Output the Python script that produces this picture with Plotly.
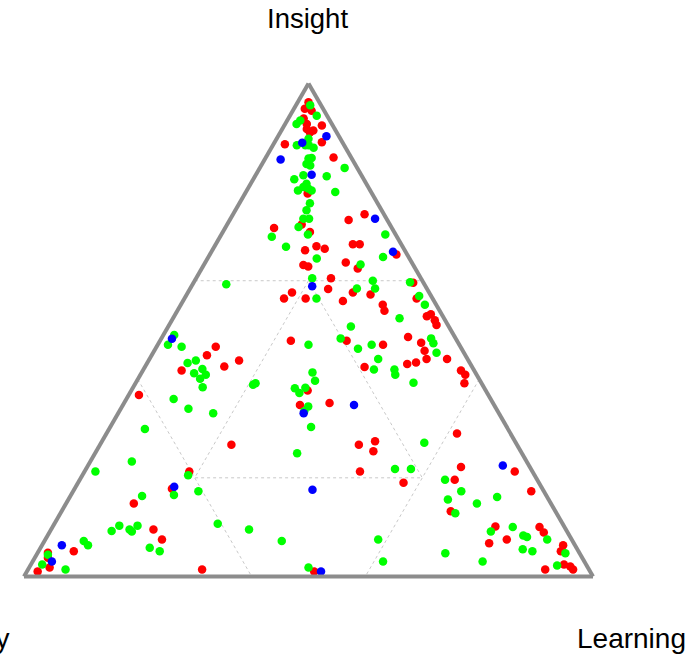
import plotly.graph_objects as go

# Axis titles
A_TITLE = "Insight"
B_TITLE = "Play"
C_TITLE = "Learning"

# Red series (Insight share a, Learning share c; b = 1 - a - c)
RED_A = [0.962, 0.949, 0.945, 0.929, 0.918, 0.915, 0.908, 0.905, 0.901, 0.881,
         0.877, 0.850, 0.777, 0.714, 0.699, 0.707, 0.662, 0.670, 0.665, 0.632,
         0.629, 0.723, 0.735, 0.674, 0.674, 0.653, 0.637, 0.625, 0.605, 0.576,
         0.564, 0.564, 0.583, 0.559, 0.576, 0.572, 0.551, 0.596, 0.564, 0.539,
         0.528, 0.532, 0.520, 0.510, 0.478, 0.470, 0.486, 0.474, 0.458, 0.441,
         0.441, 0.431, 0.434, 0.425, 0.418, 0.409, 0.392, 0.466, 0.449, 0.438,
         0.426, 0.418, 0.368, 0.267, 0.478, 0.377, 0.348, 0.352, 0.213, 0.178,
         0.267, 0.274, 0.254, 0.213, 0.190, 0.222, 0.213, 0.196, 0.173, 0.132,
         0.101, 0.100, 0.089, 0.067, 0.075, 0.063, 0.051, 0.024, 0.020, 0.014,
         0.014, 0.010, 0.148, 0.095, 0.075, 0.051, 0.048, 0.038, 0.018, 0.010,
         0.014, 0.290]
RED_C = [0.019, 0.019, 0.033, 0.027, 0.038, 0.066, 0.043, 0.056, 0.052, 0.083,
         0.020, 0.119, 0.110, 0.131, 0.153, 0.086, 0.163, 0.179, 0.196, 0.175,
         0.185, 0.209, 0.231, 0.241, 0.253, 0.328, 0.247, 0.274, 0.237, 0.183,
         0.175, 0.213, 0.243, 0.281, 0.290, 0.323, 0.355, 0.386, 0.408, 0.364,
         0.444, 0.449, 0.462, 0.470, 0.328, 0.396, 0.432, 0.461, 0.475, 0.487,
         0.523, 0.458, 0.472, 0.386, 0.559, 0.571, 0.578, 0.104, 0.097, 0.159,
         0.139, 0.068, 0.018, 0.231, 0.230, 0.310, 0.311, 0.361, 0.184, 0.171,
         0.455, 0.480, 0.487, 0.484, 0.572, 0.657, 0.756, 0.659, 0.805, 0.684,
         0.778, 0.856, 0.869, 0.784, 0.811, 0.916, 0.918, 0.937, 0.950, 0.958,
         0.909, 0.505, 0.119, 0.180, 0.205, 0.062, 0.018, 0.023, 0.036, 0.019,
         0.306, 0.616]

# Green series
GREEN_A = [0.956, 0.935, 0.918, 0.925, 0.888, 0.875, 0.875, 0.875, 0.870, 0.848,
           0.849, 0.837, 0.834, 0.829, 0.814, 0.812, 0.806, 0.797, 0.790, 0.783,
           0.787, 0.783, 0.780, 0.757, 0.743, 0.726, 0.726, 0.709, 0.694, 0.689,
           0.669, 0.645, 0.694, 0.648, 0.633, 0.605, 0.564, 0.584, 0.600, 0.584,
           0.597, 0.569, 0.551, 0.524, 0.507, 0.483, 0.462, 0.470, 0.441, 0.470,
           0.483, 0.473, 0.454, 0.420, 0.420, 0.409, 0.393, 0.414, 0.397, 0.383,
           0.382, 0.372, 0.345, 0.335, 0.303, 0.250, 0.593, 0.490, 0.470, 0.466,
           0.433, 0.438, 0.421, 0.412, 0.409, 0.401, 0.384, 0.389, 0.392, 0.360,
           0.340, 0.331, 0.299, 0.233, 0.205, 0.165, 0.173, 0.163, 0.213, 0.107,
           0.095, 0.092, 0.103, 0.095, 0.091, 0.103, 0.058, 0.051, 0.072, 0.063,
           0.044, 0.024, 0.014, 0.072, 0.075, 0.030, 0.018, 0.271, 0.218, 0.218,
           0.196, 0.173, 0.156, 0.148, 0.161, 0.128, 0.091, 0.100, 0.083, 0.080,
           0.075, 0.055, 0.051, 0.047, 0.047, 0.030, 0.022]
GREEN_C = [0.025, 0.047, 0.020, 0.023, 0.056, 0.042, 0.057, 0.063, 0.074, 0.076,
           0.081, 0.078, 0.086, 0.149, 0.084, 0.126, 0.072, 0.098, 0.096, 0.090,
           0.106, 0.114, 0.157, 0.124, 0.125, 0.128, 0.138, 0.128, 0.152, 0.091,
           0.126, 0.192, 0.288, 0.307, 0.275, 0.204, 0.232, 0.293, 0.313, 0.325,
           0.380, 0.410, 0.429, 0.398, 0.321, 0.315, 0.356, 0.376, 0.402, 0.265,
           0.474, 0.483, 0.498, 0.405, 0.441, 0.448, 0.488, 0.300, 0.313, 0.303,
           0.285, 0.298, 0.327, 0.325, 0.353, 0.355, 0.059, 0.019, 0.018, 0.044,
           0.071, 0.083, 0.103, 0.093, 0.115, 0.109, 0.122, 0.208, 0.211, 0.083,
           0.119, 0.167, 0.063, 0.073, 0.186, 0.181, 0.220, 0.126, 0.019, 0.287,
           0.348, 0.108, 0.116, 0.138, 0.144, 0.148, 0.192, 0.213, 0.069, 0.081,
           0.020, 0.020, 0.066, 0.417, 0.585, 0.616, 0.491, 0.568, 0.543, 0.571,
           0.642, 0.682, 0.667, 0.722, 0.751, 0.694, 0.775, 0.809, 0.836, 0.844,
           0.882, 0.849, 0.868, 0.928, 0.717, 0.791, 0.926]

# Blue series
BLUE_A = [0.893, 0.880, 0.846, 0.815, 0.726, 0.659, 0.589, 0.482, 0.331, 0.348,
          0.182, 0.176, 0.225, 0.063, 0.030, 0.010]
BLUE_C = [0.085, 0.049, 0.028, 0.098, 0.254, 0.319, 0.212, 0.019, 0.326, 0.406,
          0.173, 0.419, 0.729, 0.035, 0.034, 0.517]

# Zone boundaries (component shares)
ZONE_HI = 0.6
ZONE_LO = 0.2

fig = go.Figure()

lo, hi = ZONE_LO, ZONE_HI
zone_lines = [
    # full lines at 0.6 for each component
    ([hi, hi], [1 - hi, 0], [0, 1 - hi]),
    ([1 - hi, 0], [hi, hi], [0, 1 - hi]),
    ([1 - hi, 0], [0, 1 - hi], [hi, hi]),
    # inner triangle where every component > 0.2
    ([hi, lo, lo, hi], [lo, hi, lo, lo], [lo, lo, hi, lo]),
]
for a, b, c in zone_lines:
    fig.add_trace(go.Scatterternary(
        a=a, b=b, c=c, mode="lines",
        line=dict(color="#c8c8c8", width=1, dash="3px,3px"),
        hoverinfo="skip", showlegend=False))

for name, A, C, col in [("red", RED_A, RED_C, "#ff0000"),
                        ("green", GREEN_A, GREEN_C, "#00ff00"),
                        ("blue", BLUE_A, BLUE_C, "#0000ff")]:
    fig.add_trace(go.Scatterternary(
        a=A, c=C, mode="markers", name=name,
        marker=dict(color=col, size=8.5, line=dict(width=0)),
        showlegend=False))

axis_style = dict(showgrid=False, showticklabels=False, ticks="",
                  linecolor="#8c8c8c", linewidth=4, min=0,
                  title=dict(text=""))

fig.update_layout(
    width=687, height=654,
    margin=dict(l=24, r=94, t=83, b=77),
    paper_bgcolor="white",
    font=dict(family="Arial, Liberation Sans, sans-serif", color="black"),
    ternary=dict(
        sum=1, bgcolor="white",
        domain=dict(x=[0, 1], y=[0, 1]),
        aaxis=axis_style, baxis=axis_style, caxis=axis_style,
    ),
    annotations=[
        dict(text=A_TITLE, x=0.499, y=1.13, xref="paper", yref="paper",
             xanchor="center", yanchor="middle", showarrow=False,
             font=dict(size=27.5)),
        dict(text=B_TITLE, x=-0.0228, y=-0.125, xref="paper", yref="paper",
             xanchor="right", yanchor="middle", showarrow=False,
             font=dict(size=28)),
        dict(text=C_TITLE, x=1.0677, y=-0.125, xref="paper", yref="paper",
             xanchor="center", yanchor="middle", showarrow=False,
             font=dict(size=28)),
    ],
)

fig.write_html("out.html", config={"displayModeBar": False},
               post_script="document.body.style.margin='0';")
